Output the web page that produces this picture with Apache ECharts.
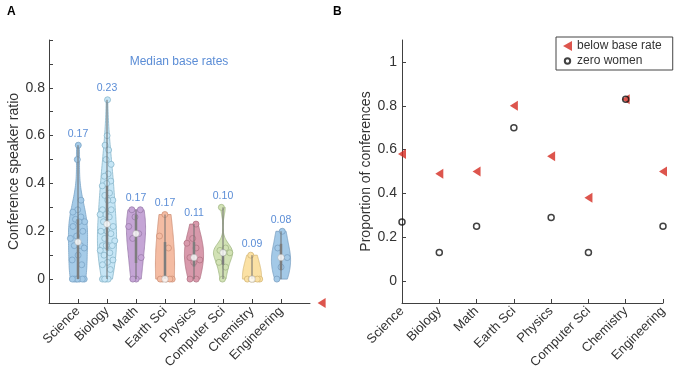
<!DOCTYPE html>
<html>
<head>
<meta charset="utf-8">
<script src="https://cdn.jsdelivr.net/npm/echarts@6/dist/echarts.min.js"></script>
<style>
html, body { margin: 0; padding: 0; background: #fff; }
#chart { width: 675px; height: 381px; }
</style>
</head>
<body>
<div id="chart"></div>
<script>
// categories
var fields = ['Science', 'Biology', 'Math', 'Earth Sci', 'Physics', 'Computer Sci', 'Chemistry', 'Engineering'];

// panel A: speaker ratio per conference
var scienceRatios = [0.56, 0.50, 0.33, 0.29, 0.28, 0.26, 0.25, 0.24, 0.24, 0.22, 0.20, 0.18, 0.17, 0.14, 0.14, 0.13, 0.10, 0.08, 0.06, 0, 0, 0, 0, 0, 0, 0];
var biologyRatios = [0.75, 0.60, 0.56, 0.54, 0.50, 0.48, 0.44, 0.43, 0.41, 0.40, 0.39, 0.36, 0.35, 0.33, 0.33, 0.29, 0.29, 0.27, 0.27, 0.26, 0.24,
    0.22, 0.20, 0.20, 0.19, 0.17, 0.16, 0.14, 0.14, 0.14, 0.14, 0.12, 0.11, 0.10, 0.08, 0.07, 0.06, 0.04, 0, 0, 0, 0];
var mathRatios = [0.29, 0.29, 0.26, 0.22, 0.19, 0.17, 0.09, 0, 0];
var earthRatios = [0.27, 0.18, 0.13, 0, 0, 0, 0, 0];
var physicsRatios = [0.23, 0.17, 0.15, 0.13, 0.09, 0.08, 0.07, 0, 0];
var csRatios = [0.30, 0.13, 0.12, 0.11, 0.11, 0.07, 0.05, 0];
var chemistryRatios = [0.10, 0, 0, 0, 0, 0];
var engineeringRatios = [0.20, 0.13, 0.09, 0.05, 0];
var ratioSets = [scienceRatios, biologyRatios, mathRatios, earthRatios, physicsRatios, csRatios, chemistryRatios, engineeringRatios];

var medianBaseRates = [0.17, 0.23, 0.17, 0.17, 0.11, 0.10, 0.09, 0.08];

// panel B
var belowBaseRate = [0.58, 0.49, 0.50, 0.80, 0.57, 0.38, 0.83, 0.50];
var zeroWomen = [0.27, 0.13, 0.25, 0.70, 0.29, 0.13, 0.83, 0.25];
var strayMarker = [9.4, -0.1]; // the clipped triangle that sits right of panel A

// tick labels
var leftTicks = [-0.1, 0, 0.1, 0.2, 0.3, 0.4, 0.5, 0.6, 0.7, 0.8, 0.9, 1.0];
var leftTickLabels = [0, 0.2, 0.4, 0.6, 0.8];
var rightTickLabels = [0, 0.2, 0.4, 0.6, 0.8, 1];
var catTicks = [1, 2, 3, 4, 5, 6, 7, 8];

var fillColors = ['#a5cbe8', '#c6e6f6', '#c5a5d6', '#f4bca3', '#d899ab', '#d2e2b5', '#fbe1a4', '#a3c9e7'];
var edgeColors = ['#7ba4c6', '#8ab7cc', '#9a7cab', '#cf937a', '#b17484', '#a3b987', '#d5b876', '#7aa0c2'];
var VIOLIN_HALF = 0.33;
var FONT = 'Liberation Sans, Arial, sans-serif';
var RED = '#d42a20';

function quantile(sorted, p) {
    var n = sorted.length, pos = p * n - 0.5;
    if (pos <= 0) return sorted[0];
    if (pos >= n - 1) return sorted[n - 1];
    var lo = Math.floor(pos);
    return sorted[lo] + (pos - lo) * (sorted[lo + 1] - sorted[lo]);
}
function sortNum(a) { return a.slice().sort(function (x, y) { return x - y; }); }
function median(a) { return quantile(sortNum(a), 0.5); }

// ksdensity-style bandwidth
function bandwidth(vals) {
    var m = median(vals);
    var sig = median(vals.map(function (v) { return Math.abs(v - m); })) / 0.6745;
    if (sig <= 0) sig = Math.max.apply(null, vals) - Math.min.apply(null, vals);
    return sig * Math.pow(4 / (3 * vals.length), 0.2);
}

function violinProfile(vals) {
    var h = bandwidth(vals);
    var lo = Math.min.apply(null, vals), hi = Math.max.apply(null, vals);
    var prof = [], steps = 60;
    for (var k = 0; k <= steps; k++) {
        var y = lo + (hi - lo) * k / steps, d = 0;
        vals.forEach(function (v) { var u = (y - v) / h; d += Math.exp(-0.5 * u * u); });
        prof.push([y, d]);
    }
    var dmax = Math.max.apply(null, prof.map(function (p) { return p[1]; }));
    return prof.map(function (p) { return [p[0], p[1] / dmax * VIOLIN_HALF]; });
}

function halfWidthAt(prof, y) {
    for (var k = 1; k < prof.length; k++) {
        if (y <= prof[k][0]) {
            var a = prof[k - 1], b = prof[k];
            var t = b[0] === a[0] ? 0 : (y - a[0]) / (b[0] - a[0]);
            return a[1] + t * (b[1] - a[1]);
        }
    }
    return prof[prof.length - 1][1];
}

var profiles = ratioSets.map(violinProfile);
var stats = ratioSets.map(function (vals) {
    var s = sortNum(vals);
    return { min: s[0], max: s[s.length - 1], q1: quantile(s, 0.25), q3: quantile(s, 0.75), med: quantile(s, 0.5) };
});

var pointData = [];
ratioSets.forEach(function (vals, i) {
    vals.forEach(function (v, j) {
        var frac = ((j + 1) * 0.6180339887 + i * 0.29) % 1;
        var off = (2 * frac - 1) * halfWidthAt(profiles[i], v) * 0.85;
        pointData.push({
            value: [i + 1 + off, v],
            itemStyle: { color: fillColors[i], borderColor: edgeColors[i] }
        });
    });
});

var catData = fields.map(function (f, i) { return [i + 1, stats[i].med]; });
var leftTriangle = 'path://M0,5 L9,0 L9,10 Z';
var smallCircle = 'path://M0,0 M10,10 M5,2 A3,3 0 1,1 5,8 A3,3 0 1,1 5,2 Z';

var chart = echarts.init(document.getElementById('chart'));

var axisLineStyle = { color: '#404040', width: 1 };

chart.setOption({
    animation: false,
    textStyle: { fontFamily: FONT },
    title: [
        { text: 'A', left: 2, top: 1, textStyle: { fontSize: 12, fontWeight: 'bold', color: '#000', fontFamily: FONT } },
        { text: 'B', left: 328, top: 1, textStyle: { fontSize: 12, fontWeight: 'bold', color: '#000', fontFamily: FONT } }
    ],
    graphic: [{
        type: 'text', x: 179, y: 62,
        style: { text: 'Median base rates', fill: '#5b8dd6', fontSize: 12, fontFamily: FONT, align: 'center', verticalAlign: 'middle' }
    }],
    legend: {
        data: [{ name: 'below base rate' }, { name: 'zero women', icon: smallCircle }],
        orient: 'vertical',
        left: 556, top: 37,
        borderColor: '#444', borderWidth: 1, backgroundColor: '#fff',
        padding: [3, 11, 3, 6],
        itemGap: 3, itemWidth: 9, itemHeight: 10,
        textStyle: { fontSize: 12, color: '#333', fontFamily: FONT }
    },
    grid: [
        { left: 49, top: 40, width: 261, height: 263 },
        { left: 402, top: 40, width: 261, height: 263 }
    ],
    xAxis: [
        {
            gridIndex: 0, type: 'value', min: 0, max: 9,
            splitLine: { show: false },
            axisLine: { onZero: false, lineStyle: axisLineStyle },
            axisTick: { inside: true, length: 4, customValues: catTicks, lineStyle: axisLineStyle },
            axisLabel: {
                customValues: catTicks, rotate: 45, fontSize: 13, color: '#333', margin: 6,
                formatter: function (v) { return fields[Math.round(v) - 1] || ''; }
            }
        },
        {
            gridIndex: 1, type: 'value', min: 1, max: 8,
            splitLine: { show: false },
            axisLine: { onZero: false, lineStyle: axisLineStyle },
            axisTick: { inside: true, length: 4, customValues: catTicks, lineStyle: axisLineStyle },
            axisLabel: {
                customValues: catTicks, rotate: 45, fontSize: 13, color: '#333', margin: 6,
                showMinLabel: true, showMaxLabel: true,
                formatter: function (v) { return fields[Math.round(v) - 1] || ''; }
            }
        }
    ],
    yAxis: [
        {
            gridIndex: 0, type: 'value', min: -0.1, max: 1.0,
            name: 'Conference speaker ratio', nameLocation: 'middle', nameGap: 25,
            nameTextStyle: { fontSize: 14, color: '#333', fontFamily: FONT },
            splitLine: { show: false },
            axisLine: { show: true, onZero: false, lineStyle: axisLineStyle },
            axisTick: { show: true, inside: true, length: 4, customValues: leftTicks, lineStyle: axisLineStyle },
            axisLabel: {
                customValues: leftTickLabels, fontSize: 14, color: '#333', margin: 4,
                formatter: function (v) { return String(+v.toFixed(1)); }
            }
        },
        {
            gridIndex: 1, type: 'value', min: -0.1, max: 1.1,
            name: 'Proportion of conferences', nameLocation: 'middle', nameGap: 29,
            nameTextStyle: { fontSize: 14, color: '#333', fontFamily: FONT },
            splitLine: { show: false },
            axisLine: { show: true, onZero: false, lineStyle: axisLineStyle },
            axisTick: { show: true, inside: true, length: 4, customValues: rightTickLabels, lineStyle: axisLineStyle },
            axisLabel: {
                customValues: rightTickLabels, fontSize: 14, color: '#333', margin: 5,
                formatter: function (v) { return String(+v.toFixed(1)); }
            }
        }
    ],
    series: [
        {
            name: 'violins', type: 'custom', xAxisIndex: 0, yAxisIndex: 0, z: 1,
            data: catData, encode: { x: 0, y: 1 },
            renderItem: function (params, api) {
                var i = params.dataIndex, x = i + 1, prof = profiles[i];
                var left = prof.map(function (p) { return api.coord([x - p[1], p[0]]); });
                var right = prof.slice().reverse().map(function (p) { return api.coord([x + p[1], p[0]]); });
                return {
                    type: 'polygon',
                    shape: { points: left.concat(right) },
                    style: { fill: fillColors[i], stroke: edgeColors[i], lineWidth: 0.8 }
                };
            }
        },
        {
            name: 'points', type: 'scatter', xAxisIndex: 0, yAxisIndex: 0, z: 2,
            symbol: 'circle', symbolSize: 6,
            itemStyle: { borderWidth: 0.8, opacity: 1 },
            data: pointData
        },
        {
            name: 'boxes', type: 'custom', xAxisIndex: 0, yAxisIndex: 0, z: 3,
            data: catData, encode: { x: 0, y: 1 },
            renderItem: function (params, api) {
                var i = params.dataIndex, x = i + 1, s = stats[i];
                var w0 = api.coord([x, s.min]), w1 = api.coord([x, s.max]);
                var b0 = api.coord([x, s.q1]), b1 = api.coord([x, s.q3]);
                var lab = api.coord([x, s.max + 0.025]);
                return {
                    type: 'group',
                    children: [
                        { type: 'line', shape: { x1: w0[0], y1: w0[1], x2: w1[0], y2: w1[1] }, style: { stroke: '#6e6e6e', lineWidth: 1 } },
                        { type: 'line', shape: { x1: b0[0], y1: b0[1], x2: b1[0], y2: b1[1] }, style: { stroke: '#7d7d7d', lineWidth: 2.5 } },
                        {
                            type: 'text', x: lab[0], y: lab[1],
                            style: {
                                text: medianBaseRates[i].toFixed(2), fill: '#5b8dd6', fontSize: 10.5, fontFamily: FONT,
                                align: 'center', verticalAlign: 'bottom'
                            }
                        }
                    ]
                };
            }
        },
        {
            name: 'medians', type: 'scatter', xAxisIndex: 0, yAxisIndex: 0, z: 4,
            symbol: 'circle', symbolSize: 6.5,
            itemStyle: { color: '#fff', borderColor: '#9a9a9a', borderWidth: 0.5 },
            data: catData
        },
        {
            name: 'stray', type: 'scatter', xAxisIndex: 0, yAxisIndex: 0, z: 5,
            clip: false, symbol: leftTriangle, symbolSize: [8, 10],
            itemStyle: { color: RED },
            data: [strayMarker]
        },
        {
            name: 'below base rate', type: 'scatter', xAxisIndex: 1, yAxisIndex: 1, z: 5,
            clip: false, symbol: leftTriangle, symbolSize: [8, 10],
            itemStyle: { color: RED },
            data: belowBaseRate.map(function (v, i) { return [i + 1, v]; })
        },
        {
            name: 'zero women', type: 'scatter', xAxisIndex: 1, yAxisIndex: 1, z: 6,
            clip: false, symbol: 'circle', symbolSize: 6,
            itemStyle: { color: 'rgba(0,0,0,0)', borderColor: '#111', borderWidth: 1.5 },
            data: zeroWomen.map(function (v, i) { return [i + 1, v]; })
        }
    ]
});
</script>
</body>
</html>
